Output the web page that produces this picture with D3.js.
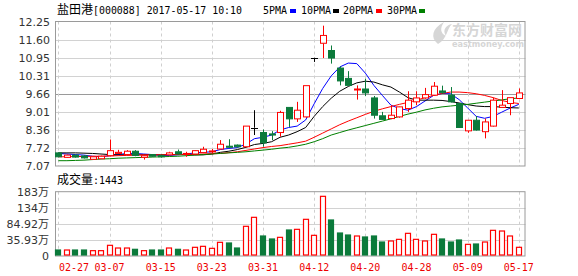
<!DOCTYPE html>
<html><head><meta charset="utf-8">
<script src="https://cdn.jsdelivr.net/npm/d3@7"></script>
<style>body{margin:0;background:#fff}svg{display:block}</style>
</head><body>
<script>
const dates = ["02-27","02-28","03-01","03-02","03-03","03-06","03-07","03-08","03-09","03-10","03-13","03-14","03-15","03-16","03-17","03-20","03-21","03-22","03-23","03-24","03-27","03-28","03-29","03-30","03-31","04-05","04-06","04-07","04-10","04-11","04-12","04-13","04-14","04-17","04-18","04-19","04-20","04-21","04-24","04-25","04-26","04-27","04-28","05-02","05-03","05-04","05-05","05-08","05-09","05-10","05-11","05-12","05-15","05-16","05-17"];
const open  = [7.54,7.38,7.46,7.43,7.31,7.33,7.44,7.52,7.48,7.60,7.38,7.48,7.45,7.47,7.58,7.49,7.50,7.55,7.58,7.68,7.78,7.82,7.76,8.45,8.27,8.22,8.27,9.17,8.76,8.83,10.95,11.47,11.21,10.58,10.21,9.80,9.83,9.51,8.87,8.77,8.83,9.13,9.37,9.51,9.61,9.76,9.61,9.31,8.33,8.71,8.30,8.50,9.17,9.31,9.49];
const close = [7.40,7.46,7.39,7.36,7.40,7.42,7.62,7.56,7.60,7.45,7.44,7.42,7.40,7.54,7.50,7.52,7.62,7.67,7.61,7.85,7.74,7.76,8.50,8.45,7.90,8.18,8.99,8.76,9.07,9.95,10.95,11.75,10.94,10.12,9.96,9.83,9.69,8.89,8.74,8.89,9.19,9.43,9.51,9.63,9.93,9.70,9.37,8.45,8.71,8.36,8.65,9.43,9.25,9.52,9.69];
const high  = [7.56,7.48,7.48,7.45,7.42,7.44,8.02,7.65,7.64,7.64,7.47,7.50,7.48,7.58,7.66,7.58,7.64,7.76,7.68,8.00,8.03,7.84,8.50,9.07,8.38,8.32,9.05,9.17,9.37,9.95,10.95,12.10,11.39,10.64,10.47,9.96,10.20,9.58,9.01,9.25,9.20,9.75,9.75,9.87,10.08,9.95,9.90,9.31,8.71,8.86,8.77,9.52,9.79,9.52,9.85];
const low   = [7.38,7.36,7.37,7.34,7.30,7.32,7.42,7.50,7.46,7.42,7.30,7.40,7.37,7.45,7.48,7.40,7.48,7.53,7.52,7.66,7.71,7.73,7.74,8.18,7.76,8.00,8.12,8.47,8.65,8.80,10.80,10.94,10.74,9.96,9.96,9.45,9.58,8.77,8.72,8.75,8.80,9.01,9.25,9.48,9.58,9.66,9.35,8.45,8.26,8.34,8.06,8.48,9.15,8.89,9.47];
const ma5   = [7.52,7.50,7.48,7.46,7.42,7.40,7.44,7.48,7.52,7.52,7.50,7.48,7.45,7.45,7.47,7.50,7.54,7.56,7.58,7.66,7.70,7.73,7.86,8.05,8.10,8.18,8.36,8.45,8.50,8.72,9.30,9.85,10.30,10.62,10.76,10.74,10.40,9.96,9.60,9.25,9.13,9.07,9.20,9.40,9.60,9.67,9.66,9.45,9.15,8.85,8.78,8.85,9.00,9.15,9.28];
const ma10  = [7.54,7.54,7.54,7.53,7.52,7.50,7.48,7.47,7.47,7.47,7.47,7.47,7.47,7.48,7.48,7.48,7.47,7.47,7.50,7.56,7.60,7.66,7.74,7.84,7.88,7.94,8.10,8.18,8.30,8.45,8.85,9.20,9.50,9.75,9.92,10.05,10.11,10.08,9.98,9.90,9.72,9.52,9.43,9.43,9.43,9.42,9.38,9.33,9.27,9.22,9.20,9.20,9.18,9.16,9.15];
const ma20  = [7.40,7.40,7.41,7.41,7.42,7.42,7.43,7.44,7.45,7.46,7.47,7.47,7.47,7.48,7.48,7.49,7.49,7.50,7.51,7.52,7.55,7.58,7.63,7.68,7.73,7.77,7.80,7.85,7.90,7.96,8.10,8.25,8.40,8.55,8.68,8.80,8.92,9.03,9.12,9.20,9.28,9.35,9.43,9.52,9.60,9.67,9.72,9.72,9.70,9.66,9.60,9.52,9.42,9.35,9.31];
const ma30  = [7.26,7.26,7.27,7.28,7.30,7.32,7.33,7.35,7.36,7.37,7.38,7.39,7.40,7.41,7.42,7.44,7.46,7.48,7.50,7.52,7.54,7.56,7.58,7.61,7.64,7.67,7.71,7.74,7.79,7.85,7.94,8.05,8.18,8.27,8.36,8.44,8.52,8.60,8.68,8.76,8.85,8.93,9.00,9.08,9.14,9.19,9.22,9.25,9.28,9.32,9.36,9.40,9.44,9.48,9.51];
// volume in 万 shares
const volume = [5.2,5.2,5.2,5.2,3.2,3.2,19.5,11.3,11.3,7.3,3.2,5.2,5.2,11.3,7.3,5.2,13.4,16.4,10.3,28.6,26.6,11.3,77.4,104.8,47.9,38.8,43.8,66.2,68.2,98.7,49.9,168.8,96.7,57.0,50.9,47.9,44.9,47.9,29.6,32.7,37.7,56.0,37.7,32.7,53.0,38.8,29.6,35.7,22.5,23.5,29.6,65.2,63.1,47.9,13.4];
const priceTicks = [12.25,11.60,10.95,10.31,9.66,9.01,8.36,7.72,7.07];
const volTicks = [182.9,133.91,84.92,35.93];
const volTickLabels = ["183万","134万","84.92万","35.93万"];
const xTickDates = ["02-27","03-07","03-15","03-23","03-31","04-12","04-20","04-28","05-09","05-17"];
const maNames = ["5PMA","10PMA","20PMA","30PMA"];
const maColors = ["#0000ff","#000000","#ff0000","#008000"];

const W=578,H=276;
const L=55,R=525.5, pTop=21.5, pBot=166, vTop=191.7, vBot=256;
const UP="#ff0000", DOWN="#0b7a3b";
const svg=d3.select("body").append("svg").attr("width",W).attr("height",H);

const x=d3.scalePoint().domain(dates).range([58.4,518.8]);
const y=d3.scaleLinear().domain([7.07,12.25]).range([pBot,pTop]);
const yv=d3.scaleLinear().domain([-13.06,182.9]).range([vBot,vTop]);

// watermark
const wm=svg.append("g").attr("fill","#d6d6d6");
wm.append("path").attr("d","M438,44 C430,38 432,28 444,22 C440,28 440,33 446,36 C442,30 446,25 452,24 C446,30 448,38 438,44 Z");
wm.append("text").attr("x",452).attr("y",35).attr("font-family","'Noto Sans CJK SC'").attr("font-weight","bold").attr("font-size",14).text("东方财富网");
wm.append("text").attr("x",452).attr("y",46.5).attr("font-family","'DejaVu Sans'").attr("font-weight","bold").attr("font-size",8).attr("textLength",72).attr("lengthAdjust","spacingAndGlyphs").text("eastmoney.com");

// grids
function panel(top,bot,ticks,scale,darkVal){
  const g=svg.append("g");
  ticks.forEach(t=>{
    const yy=Math.round(scale(t))+0.5;
    if(yy<=top+1||yy>=bot-1) return;
    g.append("line").attr("x1",L).attr("x2",R).attr("y1",yy).attr("y2",yy)
      .attr("stroke",t===darkVal?"#9a9a9a":"#d2d2d2").attr("stroke-width",1);
  });
  xTickDates.forEach(d=>{
    const xx=Math.round(x(d))+0.5;
    g.append("line").attr("x1",xx).attr("x2",xx).attr("y1",top).attr("y2",bot)
      .attr("stroke","#cfcfcf").attr("stroke-dasharray","3,3");
  });
  g.append("rect").attr("x",L+0.5).attr("y",top).attr("width",R-L-1).attr("height",bot-top)
    .attr("fill","none").attr("stroke","#9a9a9a");
}
panel(pTop,pBot,priceTicks,y,9.66);
panel(vTop,vBot,volTicks,yv,null);

// y axes
const axP=svg.append("g").attr("transform",`translate(${L-2},0)`)
  .call(d3.axisLeft(y).tickValues(priceTicks).tickSize(0).tickFormat(d3.format(".2f")));
axP.select(".domain").remove();
axP.selectAll("text").attr("font-family","'DejaVu Sans'").attr("font-size",11).attr("fill","#333").attr("dx",0);
const axV=svg.append("g").attr("transform",`translate(${L-3},0)`)
  .call(d3.axisLeft(yv).tickValues([...volTicks,-13.06]).tickSize(0)
    .tickFormat((d,i)=>i<volTickLabels.length?volTickLabels[i]:"0"));
axV.select(".domain").remove();
axV.selectAll("text").attr("font-family","'DejaVu Sans','Noto Sans CJK SC'").attr("font-size",11).attr("fill","#333");

// x labels
const xl=svg.append("g");
xTickDates.forEach((d,i)=>{
  const t=xl.append("text").attr("y",271).attr("fill","#ee0000")
    .attr("font-family","'DejaVu Sans Mono'").attr("font-size",11)
    .attr("textLength",30).attr("lengthAdjust","spacingAndGlyphs").text(d);
  if(i===0) t.attr("x",59); else t.attr("x",x(d)-15);
});

// MA lines
const maData=[ma5,ma10,ma20,ma30];
const line=d3.line().x((d,i)=>x(dates[i])).y(d=>y(d));
maData.forEach((arr,k)=>{
  svg.append("path").attr("d",line(arr)).attr("fill","none").attr("stroke",maColors[k]).attr("stroke-width",1);
});

// candles
const bw=6;
const cg=svg.append("g");
dates.forEach((d,i)=>{
  const o=open[i],c=close[i];
  const col=c>o?UP:(c<o?DOWN:"#000");
  const cx=Math.round(x(d))+0.5;
  const top=Math.min(y(o),y(c)), bot=Math.max(y(o),y(c));
  cg.append("line").attr("x1",cx).attr("x2",cx).attr("y1",y(high[i])).attr("y2",top).attr("stroke",col);
  cg.append("line").attr("x1",cx).attr("x2",cx).attr("y1",bot).attr("y2",y(low[i])).attr("stroke",col);
  if(c===o){
    cg.append("line").attr("x1",cx-bw/2-0.5).attr("x2",cx+bw/2+0.5).attr("y1",Math.round(y(o))+0.5).attr("y2",Math.round(y(o))+0.5).attr("stroke",col);
  } else {
    cg.append("rect").attr("x",cx-bw/2).attr("y",top).attr("width",bw).attr("height",Math.max(bot-top,1))
      .attr("fill",c>o?"#fff":DOWN).attr("stroke",col).attr("stroke-width",1);
  }
});

// volume bars
const vg=svg.append("g");
dates.forEach((d,i)=>{
  const up=close[i]>=open[i];
  const cx=Math.round(x(d));
  const yt=yv(volume[i]);
  vg.append("rect").attr("x",cx-2.5).attr("y",yt).attr("width",bw-1).attr("height",vBot-yt-1)
    .attr("fill",up?"#fff":DOWN).attr("stroke",up?UP:DOWN).attr("stroke-width",1.2);
});

// title
const tg=svg.append("g").attr("font-size",12);
tg.append("text").attr("x",57).attr("y",14).attr("font-family","'Noto Sans CJK SC'").text("盐田港");
tg.append("text").attr("x",93).attr("y",14).attr("font-family","'DejaVu Sans Mono'").attr("font-size",11)
  .attr("textLength",149).attr("lengthAdjust","spacingAndGlyphs").text("[000088] 2017-05-17 10:10");
const legX=[263,301,343,387], legW=[24,30,30,30], sqX=[290,333,376,419];
maNames.forEach((n,k)=>{
  tg.append("text").attr("x",legX[k]).attr("y",14).attr("font-family","'DejaVu Sans Mono'").attr("font-size",11)
    .attr("textLength",legW[k]).attr("lengthAdjust","spacingAndGlyphs").text(n);
  tg.append("rect").attr("x",sqX[k]).attr("y",9).attr("width",6).attr("height",4).attr("fill",maColors[k]);
});
svg.append("text").attr("x",57).attr("y",184).attr("font-size",12).attr("font-family","'Noto Sans CJK SC'").text("成交量");
svg.append("text").attr("x",93).attr("y",184).attr("font-size",11).attr("font-family","'DejaVu Sans Mono'")
  .attr("textLength",30).attr("lengthAdjust","spacingAndGlyphs").text(":1443");
</script>
</body></html>
